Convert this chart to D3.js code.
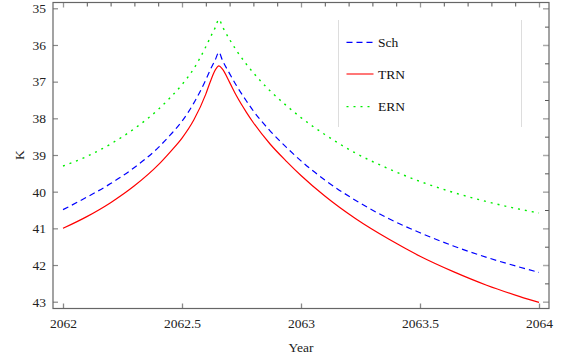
<!DOCTYPE html>
<html><head><meta charset="utf-8">
<script src="https://cdn.jsdelivr.net/npm/d3@7/dist/d3.min.js"></script>
<style>body{margin:0;background:#fff}svg{display:block}</style>
</head><body><svg id="c" width="581" height="363"></svg>
<script>
const years = [2062, 2062.1, 2062.2, 2062.3, 2062.4, 2062.45, 2062.5, 2062.55, 2062.6, 2062.62, 2062.64, 2062.655, 2062.67, 2062.7, 2062.73, 2062.77, 2062.8, 2062.87, 2062.94, 2063, 2063.1, 2063.23, 2063.37, 2063.5, 2063.64, 2063.78, 2063.92, 2064];
const sch = [40.49, 40.15, 39.78, 39.34, 38.80, 38.46, 38.08, 37.58, 36.95, 36.66, 36.40, 36.20, 36.42, 36.78, 37.12, 37.52, 37.80, 38.34, 38.80, 39.16, 39.68, 40.24, 40.74, 41.12, 41.48, 41.79, 42.06, 42.20];
const trn = [41.00, 40.68, 40.30, 39.84, 39.27, 38.92, 38.54, 38.04, 37.34, 36.98, 36.68, 36.57, 36.66, 37.02, 37.40, 37.83, 38.12, 38.70, 39.18, 39.56, 40.12, 40.74, 41.30, 41.76, 42.18, 42.55, 42.86, 43.02];
const ern = [39.30, 39.04, 38.70, 38.28, 37.76, 37.44, 37.08, 36.64, 36.05, 35.78, 35.52, 35.30, 35.50, 35.85, 36.16, 36.52, 36.76, 37.25, 37.66, 37.98, 38.44, 38.95, 39.38, 39.72, 40.02, 40.27, 40.48, 40.58];
const seriesNames = ["Sch", "TRN", "ERN"];
const xMajor = [2062, 2062.5, 2063, 2063.5, 2064];
const yMajor = [35, 36, 37, 38, 39, 40, 41, 42, 43];

const FONT = "Liberation Serif";
const svg = d3.select("#c");
const L = 53, R = 549, T = 2.5, B = 308.5;
const x = d3.scaleLinear().domain([2062, 2064]).range([63, 539]);
const y = d3.scaleLinear().domain([35, 43]).range([8.3, 301.7]);

const styles = [
  {color:"#0000ff", dash:"6,4", w:1.2},
  {color:"#ff0000", dash:null, w:1.2},
  {color:"#00ee00", dash:"2,5", w:1.4}
];
const data = [sch, trn, ern];

const fmt = d => String(d);
const xMinor = d3.range(2062, 2064.0001, 0.1).map(v => +v.toFixed(1)).filter(v => !xMajor.includes(v));
const yMinor = d3.range(35.5, 43, 1);

// bottom
svg.append("g").attr("transform",`translate(0,${B})`)
  .call(d3.axisBottom(x).tickValues(xMajor).tickFormat(fmt).tickSizeInner(-5).tickSizeOuter(0).tickPadding(10))
  .call(g=>{g.select(".domain").remove(); g.selectAll(".tick line").attr("stroke","#888").attr("stroke-width",1.3);
    g.selectAll("text").attr("font-size",13.5).attr("fill","#222");});
// top
svg.append("g").attr("transform",`translate(0,${T})`)
  .call(d3.axisTop(x).tickValues(xMajor).tickFormat("").tickSizeInner(-5).tickSizeOuter(0))
  .call(g=>{g.select(".domain").remove(); g.selectAll(".tick line").attr("stroke","#999").attr("stroke-width",1.3);});
svg.append("g").attr("transform",`translate(0,${T})`)
  .call(d3.axisTop(x).tickValues(xMinor).tickFormat("").tickSizeInner(-4).tickSizeOuter(0))
  .call(g=>{g.select(".domain").remove(); g.selectAll(".tick line").attr("stroke","#555");});
// left
svg.append("g").attr("transform",`translate(${L},0)`)
  .call(d3.axisLeft(y).tickValues(yMajor).tickFormat(fmt).tickSizeInner(-5).tickSizeOuter(0).tickPadding(7))
  .call(g=>{g.select(".domain").remove(); g.selectAll(".tick line").attr("stroke","#888").attr("stroke-width",1.2);
    g.selectAll("text").attr("font-size",13.5).attr("fill","#222");});
// right
svg.append("g").attr("transform",`translate(${R},0)`)
  .call(d3.axisRight(y).tickValues(yMajor).tickFormat("").tickSizeInner(-6).tickSizeOuter(0))
  .call(g=>{g.select(".domain").remove(); g.selectAll(".tick line").attr("stroke","#aaa").attr("stroke-width",1.5);});
svg.append("g").attr("transform",`translate(${R},0)`)
  .call(d3.axisRight(y).tickValues(yMinor).tickFormat("").tickSizeInner(-4).tickSizeOuter(0))
  .call(g=>{g.select(".domain").remove(); g.selectAll(".tick line").attr("stroke","#555");});

// frame
svg.append("rect").attr("x",L).attr("y",T).attr("width",R-L).attr("height",B-T)
  .attr("fill","none").attr("stroke","#666").attr("stroke-width",1.2);

// curves
svg.append("clipPath").attr("id","clip").append("rect").attr("x",L).attr("y",T).attr("width",R-L).attr("height",B-T);
const line = d3.line().x((d,i)=>x(years[i])).y(d=>y(d)).curve(d3.curveMonotoneX);
data.forEach((arr,k)=>{
  svg.append("path").datum(arr).attr("clip-path","url(#clip)")
    .attr("d",line).attr("fill","none").attr("stroke",styles[k].color)
    .attr("stroke-width",styles[k].w).attr("stroke-dasharray",styles[k].dash);
});

// legend
const lg = svg.append("g");
lg.append("line").attr("x1",338.5).attr("x2",338.5).attr("y1",20).attr("y2",127).attr("stroke","#ddd");
lg.append("line").attr("x1",521.5).attr("x2",521.5).attr("y1",20).attr("y2",127).attr("stroke","#ddd");
const legY = [42.3, 74, 106.7];
seriesNames.forEach((n,k)=>{
  lg.append("line").attr("x1",346.5).attr("x2",373.5).attr("y1",legY[k]).attr("y2",legY[k])
    .attr("stroke",k===1?"#f77":styles[k].color).attr("stroke-width",k===1?2:1.2)
    .attr("stroke-dasharray",styles[k].dash);
  lg.append("text").attr("x",378).attr("y",legY[k]).attr("dy","0.35em")
    .attr("font-size",13.5).attr("fill","#111").text(n);
});

// axis titles
svg.append("text").attr("x",301).attr("y",347).attr("dy","0.35em").attr("text-anchor","middle")
  .attr("font-size",13.5).attr("fill","#222").text("Year");
svg.append("text").attr("transform","translate(19,155) rotate(-90)").attr("dy","0.35em").attr("text-anchor","middle")
  .attr("font-size",13.5).attr("fill","#222").text("K");

svg.selectAll("g").attr("font-family", FONT);
svg.selectAll("text").attr("font-family", FONT);
</script></body></html>
